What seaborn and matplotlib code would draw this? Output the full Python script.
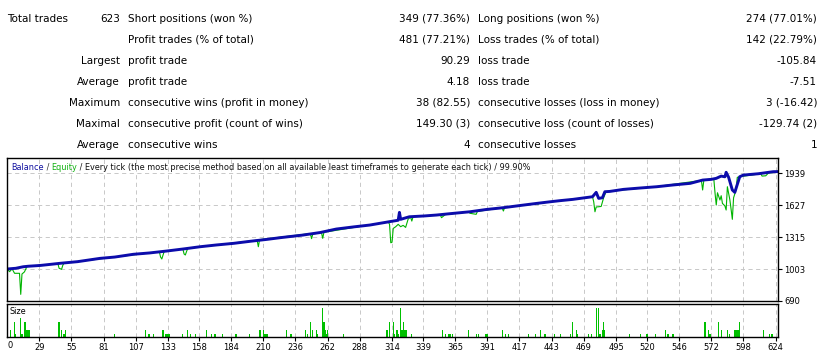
import numpy as np
import pandas as pd
import matplotlib
matplotlib.use("Agg")
import matplotlib.pyplot as plt
import seaborn as sns

W, H = 827, 357

# stats table (tester report)
total_label = "Total trades"
total_value = "623"
row_heads = ["", "", "Largest", "Average", "Maximum", "Maximal", "Average"]
left_labels = ["Short positions (won %)", "Profit trades (% of total)", "profit trade",
               "profit trade", "consecutive wins (profit in money)",
               "consecutive profit (count of wins)", "consecutive wins"]
left_values = ["349 (77.36%)", "481 (77.21%)", "90.29", "4.18", "38 (82.55)",
               "149.30 (3)", "4"]
right_labels = ["Long positions (won %)", "Loss trades (% of total)", "loss trade",
                "loss trade", "consecutive losses (loss in money)",
                "consecutive loss (count of losses)", "consecutive losses"]
right_values = ["274 (77.01%)", "142 (22.79%)", "-105.84", "-7.51", "3 (-16.42)",
                "-129.74 (2)", "1"]

# balance curve (trade number -> balance)
balance_trade = [0, 3, 10, 16, 20, 30, 46, 60, 78, 90, 105, 118, 132, 146, 159, 172,
                 186, 200, 213, 224, 242, 256, 269, 283, 296, 312, 319, 320, 321, 328,
                 340, 350, 364, 377, 390, 404, 418, 431, 442, 450, 460, 476, 479, 481,
                 484, 486, 490, 501, 514, 528, 541, 555, 565, 572, 576, 580, 583, 584,
                 586, 589, 591, 593, 595, 598, 610, 622, 626]
balance_value = [1000, 1003, 1010, 1025, 1030, 1038, 1059, 1075, 1107, 1120, 1147, 1160,
                 1179, 1200, 1221, 1238, 1254, 1275, 1293, 1310, 1335, 1360, 1394, 1415,
                 1433, 1466, 1480, 1557, 1489, 1514, 1522, 1531, 1548, 1563, 1585, 1603,
                 1625, 1645, 1661, 1672, 1684, 1710, 1753, 1694, 1700, 1759, 1762, 1782,
                 1795, 1808, 1825, 1841, 1873, 1880, 1890, 1912, 1905, 1949, 1900, 1776,
                 1753, 1830, 1906, 1922, 1935, 1955, 1956]

# equity curve
equity_trade = [0, 3, 5, 7, 9, 13, 14, 15, 17, 19, 44, 45, 47, 48, 49, 126, 127, 128,
                129, 130, 145, 146, 147, 148, 149, 205, 206, 207, 248, 249, 250, 257,
                258, 259, 311, 312, 313, 314, 315, 317, 319, 321, 323, 325, 327, 329,
                330, 331, 353, 354, 357, 376, 377, 382, 383, 403, 404, 405, 431, 432,
                433, 476, 477, 478, 479, 481, 483, 485, 487, 525, 526, 527, 564, 565,
                566, 574, 575, 576, 577, 579, 580, 581, 583, 584, 585, 587, 588, 589,
                590, 592, 593, 595, 612, 613, 616, 618, 626]
equity_value = [1000, 1003, 977, 1005, 961, 961, 755, 954, 975, 1027, 1056, 1010, 1000,
                1040, 1060, 1172, 1120, 1101, 1140, 1178, 1198, 1150, 1140, 1175, 1205,
                1285, 1221, 1290, 1350, 1300, 1345, 1360, 1303, 1362, 1464, 1440, 1260,
                1264, 1400, 1417, 1440, 1417, 1430, 1410, 1490, 1512, 1472, 1514, 1533,
                1505, 1535, 1562, 1548, 1538, 1566, 1602, 1570, 1604, 1645, 1636, 1647,
                1710, 1660, 1563, 1610, 1612, 1615, 1700, 1760, 1806, 1802, 1808, 1870,
                1776, 1873, 1888, 1749, 1629, 1749, 1678, 1720, 1645, 1620, 1580, 1808,
                1680, 1587, 1489, 1700, 1775, 1900, 1906, 1935, 1912, 1915, 1940, 1956]

# deal size per trade
size_trade = [6, 9, 10, 14, 15, 17, 18, 19, 20, 21, 45, 47, 49, 50, 90, 115, 117, 118,
              121, 129, 131, 132, 133, 134, 145, 149, 151, 155, 164, 168, 171, 177, 188,
              199, 207, 208, 210, 211, 212, 213, 229, 232, 233, 244, 246, 248, 250, 253,
              254, 258, 259, 260, 261, 262, 275, 310, 312, 315, 316, 318, 319, 321, 322,
              323, 324, 325, 326, 330, 355, 357, 360, 361, 363, 376, 382, 384, 390, 391,
              403, 406, 408, 424, 430, 434, 437, 438, 445, 450, 458, 460, 463, 464, 473,
              475, 479, 481, 482, 484, 485, 486, 506, 515, 520, 527, 535, 537, 541, 567,
              570, 571, 578, 580, 585, 587, 591, 592, 593, 594, 595, 614, 619, 621]
size_lots = [0.07, 0.15, 0.03, 0.2, 0.03, 0.15, 0.15, 0.07, 0.07, 0.07, 0.15, 0.07, 0.03,
             0.07, 0.03, 0.07, 0.03, 0.03, 0.03, 0.07, 0.03, 0.03, 0.03, 0.03, 0.03, 0.07,
             0.03, 0.03, 0.07, 0.03, 0.03, 0.03, 0.03, 0.03, 0.07, 0.07, 0.07, 0.03, 0.03,
             0.03, 0.07, 0.03, 0.03, 0.07, 0.03, 0.15, 0.07, 0.07, 0.03, 0.3, 0.15, 0.07,
             0.03, 0.07, 0.03, 0.07, 0.15, 0.15, 0.03, 0.07, 0.03, 0.3, 0.07, 0.15, 0.07,
             0.07, 0.07, 0.03, 0.07, 0.03, 0.03, 0.03, 0.03, 0.07, 0.03, 0.03, 0.03, 0.03,
             0.07, 0.03, 0.03, 0.03, 0.03, 0.07, 0.03, 0.03, 0.03, 0.03, 0.03, 0.15, 0.07,
             0.03, 0.03, 0.03, 0.3, 0.3, 0.03, 0.07, 0.15, 0.07, 0.03, 0.03, 0.03, 0.03,
             0.07, 0.03, 0.03, 0.15, 0.07, 0.03, 0.15, 0.07, 0.07, 0.03, 0.07, 0.07, 0.07,
             0.07, 0.15, 0.07, 0.03, 0.03]

x_ticks = [29, 55, 81, 107, 133, 158, 184, 210, 236, 262, 288, 314, 339, 365, 391, 417,
           443, 469, 495, 520, 546, 572, 598, 624]
y_ticks = [690, 1003, 1315, 1627, 1939]

BLUE = "#0c0cab"
GREEN = "#00b400"
GRID = "#c8c8c8"


def fx(x):
    return x / W


def fy(y):
    return 1 - y / H


sns.set_style("white")
plt.rcParams["font.family"] = ["DejaVu Sans"]
plt.rcParams["text.color"] = "black"
plt.rcParams["lines.scale_dashes"] = False

fig = plt.figure(figsize=(W / 100, H / 100), dpi=100)

# table at the top
fs = 7.5
for i in range(7):
    base = fy(21.7 + i * 21.05)
    if i == 0:
        fig.text(fx(7), base, total_label, fontsize=fs, va="baseline", ha="left")
        fig.text(fx(120), base, total_value, fontsize=fs, va="baseline", ha="right")
    else:
        fig.text(fx(120), base, row_heads[i], fontsize=fs, va="baseline", ha="right")
    fig.text(fx(128), base, left_labels[i], fontsize=fs, va="baseline", ha="left")
    fig.text(fx(470), base, left_values[i], fontsize=fs, va="baseline", ha="right")
    fig.text(fx(478), base, right_labels[i], fontsize=fs, va="baseline", ha="left")
    fig.text(fx(817), base, right_values[i], fontsize=fs, va="baseline", ha="right")

# balance / equity panel
ax = fig.add_axes([fx(7), fy(301), fx(778) - fx(7), fy(158) - fy(301)])
sns.lineplot(x=equity_trade, y=equity_value, ax=ax, color=GREEN, lw=0.8)
sns.lineplot(x=balance_trade, y=balance_value, ax=ax, color=BLUE, lw=2.1)
ax.set_xlim(2.9, 625.9)
ax.set_ylim(690, 2089)
ax.set_xticks(x_ticks)
ax.set_xticklabels([])
ax.tick_params(axis="x", length=0)
ax.yaxis.tick_right()
ax.set_yticks(y_ticks)
ax.tick_params(axis="y", length=3, width=0.8, pad=1.5, labelsize=6, colors="black")
ax.grid(True, color=GRID, linestyle=(0, (3, 2.5)), lw=0.7)
ax.set_axisbelow(True)
for s in ax.spines.values():
    s.set_color("black")
    s.set_linewidth(1.0)

parts = [("Balance", "#1010a0"), (" / ", "#303030"), ("Equity", "#10b010"),
         (" / Every tick (the most precise method based on all available least "
          "timeframes to generate each tick) / 99.90%", "#101010")]
prev = None
for txt, col in parts:
    if prev is None:
        prev = fig.text(fx(11), fy(170), txt, color=col, fontsize=5.9, va="baseline")
    else:
        prev = ax.annotate(txt, xy=(1, 0), xycoords=prev, va="bottom", ha="left",
                           color=col, fontsize=5.9, annotation_clip=False)

# size panel
ax2 = fig.add_axes([fx(7), fy(337), fx(778) - fx(7), fy(303.6) - fy(337)])
sns.barplot(x=size_trade, y=size_lots, ax=ax2, native_scale=True, color="#00c000",
            width=1.0, errorbar=None, saturation=1, linewidth=0)
for p in ax2.patches:
    p.set_antialiased(False)
ax2.set_xlim(2.9, 625.9)
ax2.set_ylim(0, 0.345)
ax2.set_yticks([])
ax2.set_xticks(x_ticks)
ax2.set_xticklabels([str(v) for v in x_ticks])
ax2.tick_params(axis="x", length=3, width=0.8, pad=1.5, labelsize=6, colors="black",
                bottom=True)
ax2.grid(True, axis="x", color=GRID, linestyle=(0, (3, 2.5)), lw=0.7)
ax2.set_axisbelow(True)
ax2.set_xlabel("")
ax2.set_ylabel("")
for s in ax2.spines.values():
    s.set_color("black")
    s.set_linewidth(1.0)
fig.text(fx(10), fy(314), "Size", fontsize=5.9, va="baseline")
fig.text(fx(10), fy(348.3), "0", fontsize=6, va="baseline", ha="center")

fig.savefig("out.png", dpi=100)
